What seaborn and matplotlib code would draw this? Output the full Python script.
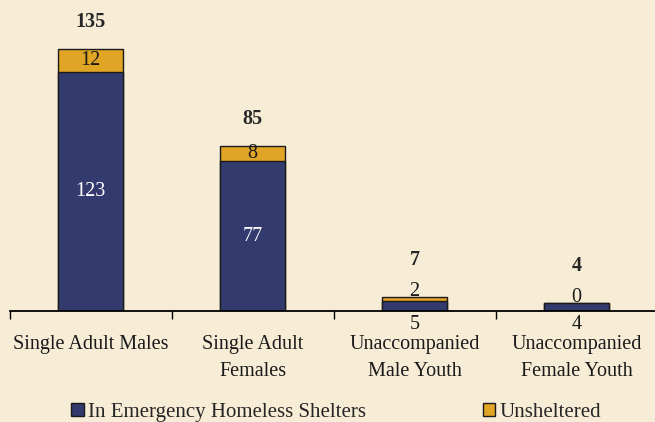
import matplotlib.pyplot as plt
import seaborn as sns
from matplotlib.patches import Patch

categories = ['Single Adult Males', 'Single Adult\nFemales', 'Unaccompanied\nMale Youth', 'Unaccompanied\nFemale Youth']
sheltered = [123, 77, 5, 4]
unsheltered = [12, 8, 2, 0]
totals = [s + u for s, u in zip(sheltered, unsheltered)]
series_names = ['In Emergency Homeless Shelters', 'Unsheltered']

navy = '#333A6D'
gold = '#E1A526'
bg = '#F7ECD6'

sns.set_style('white')
plt.rcParams['font.family'] = ['Liberation Serif', 'DejaVu Serif']

fig = plt.figure(figsize=(6.55, 4.22), dpi=100, facecolor=bg)
ax = fig.add_axes([9.5 / 655, (422 - 311) / 422, 648 / 655, 311 / 422])
ax.set_facecolor(bg)

# stacked bars: total in gold, sheltered in navy over it
sns.barplot(x=categories, y=totals, color=gold, width=0.4, saturation=1,
            edgecolor='#1a1a1a', linewidth=1, ax=ax)
sns.barplot(x=categories, y=sheltered, color=navy, width=0.4, saturation=1,
            edgecolor='#1a1a1a', linewidth=1, ax=ax)

ax.set_xlim(-0.5, 3.5)
ax.set_ylim(0, 160)
ax.set_yticks([])
for s in ['top', 'left', 'right']:
    ax.spines[s].set_visible(False)
ax.spines['bottom'].set_color('black')
ax.spines['bottom'].set_linewidth(1.3)

ax.set_xticks(range(len(categories)))
ax.set_xticklabels(categories, fontsize=14.5, linespacing=1.6)
ax.tick_params(axis='x', which='major', length=0, pad=17, colors='#1a1a1a')
ax.set_xticks([-0.5, 0.5, 1.5, 2.5], minor=True)
ax.tick_params(axis='x', which='minor', bottom=True, length=6, width=1, color='black', direction='out')
ax.set_xlabel('')

for i, (s, u, t) in enumerate(zip(sheltered, unsheltered, totals)):
    if s > 20:
        ax.text(i, s / 2, str(s), ha='center', va='center', fontsize=14.5, color='white')
        ax.text(i, s + u / 2, str(u), ha='center', va='center', fontsize=14.5, color='#1a1a1a')
        ax.annotate(str(t), (i, t), xytext=(0, 19), textcoords='offset points',
                    ha='center', va='center', fontsize=14.5, fontweight='bold')
    else:
        ax.annotate(str(s), (i, 0), xytext=(0, -10), textcoords='offset points',
                    ha='center', va='center', fontsize=14.5, color='#1a1a1a')
        ax.annotate(str(u), (i, t), xytext=(0, 4), textcoords='offset points',
                    ha='center', va='center', fontsize=14.5, color='#1a1a1a')
        ax.annotate(str(t), (i, t), xytext=(0, 27), textcoords='offset points',
                    ha='center', va='center', fontsize=14.5, fontweight='bold')

handles = [Patch(facecolor=navy, edgecolor='#1a1a1a', linewidth=1),
           Patch(facecolor=gold, edgecolor='#1a1a1a', linewidth=1)]
fig.legend(handles, series_names, loc='center', bbox_to_anchor=(0.513, 0.022), ncol=2,
           frameon=False, fontsize=15, handlelength=0.6, handleheight=0.6,
           handletextpad=0.2, columnspacing=5.6)

fig.savefig('out.png', dpi=100, facecolor=bg)
